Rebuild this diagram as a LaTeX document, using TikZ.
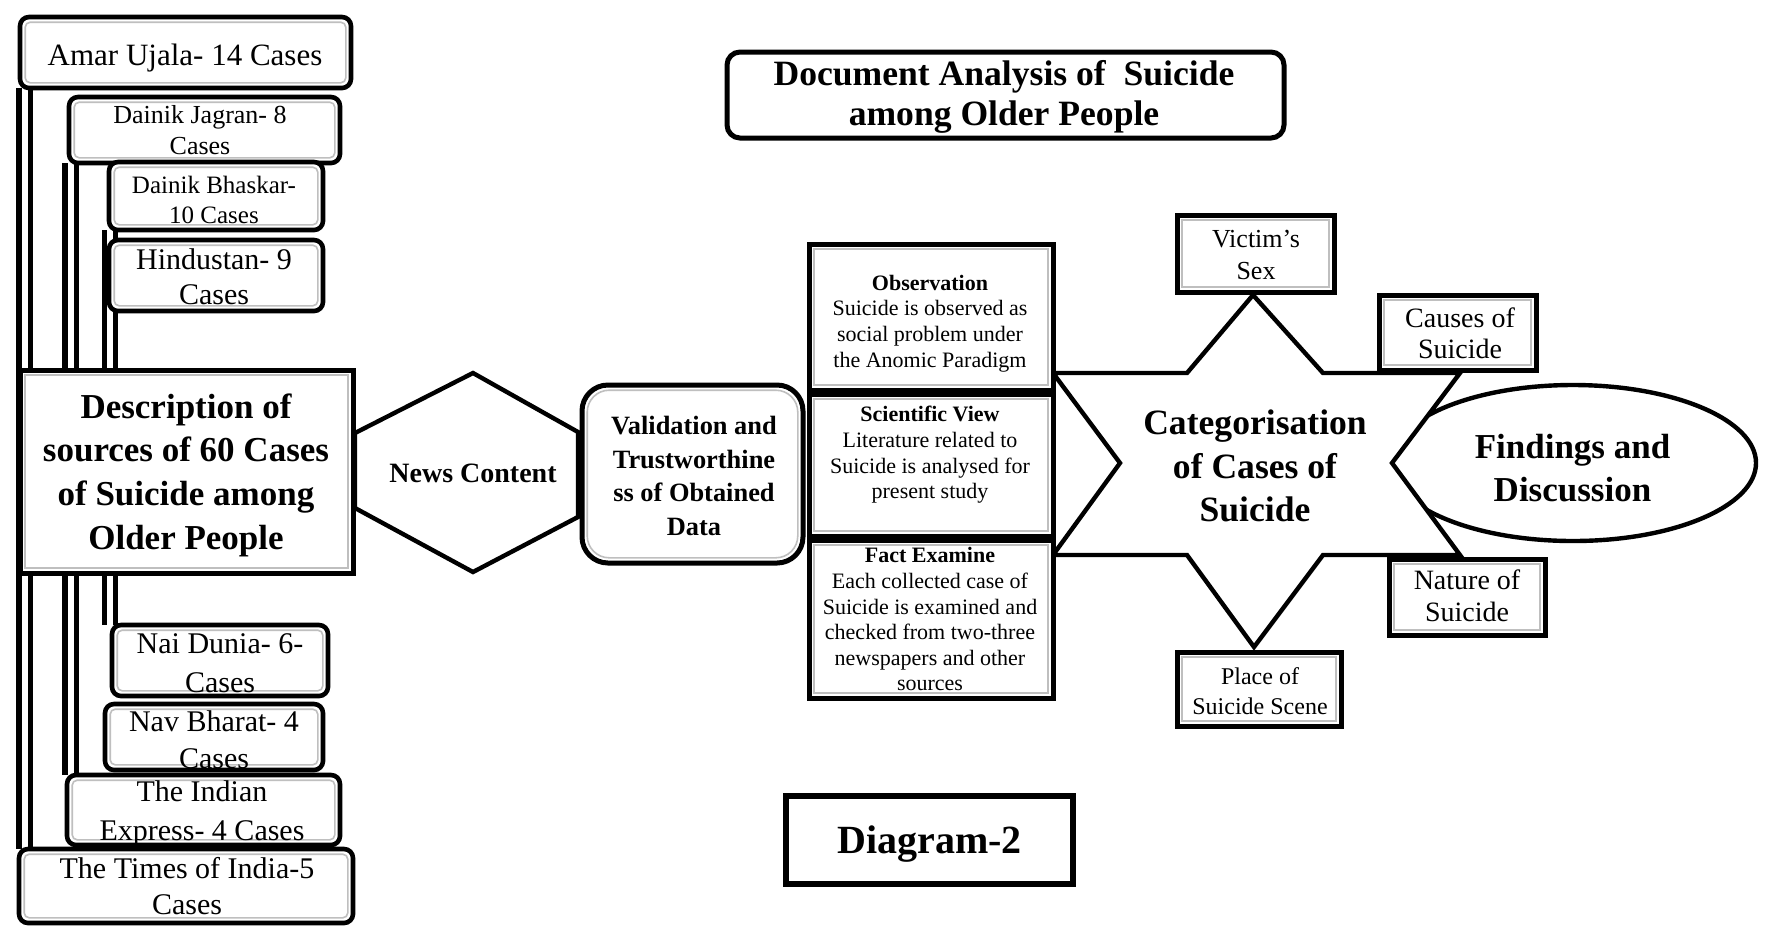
\documentclass[tikz,border=0pt]{standalone}
\usepackage{fontspec}
\setmainfont{Liberation Serif}
\usetikzlibrary{shapes.geometric}
\pgfdeclarelayer{bg}
\pgfsetlayers{bg,main}
\newcommand\myfs[2]{\fontsize{#1pt}{#2pt}\selectfont}
\tikzset{
 box/.style={draw, line width=2.5pt, fill=white, inner sep=0pt, outer sep=0pt},
 bev/.style={path picture={\draw[gray!50, line width=0.8pt, rounded corners=#1] ([xshift=2.6pt,yshift=-2.6pt]path picture bounding box.north west) rectangle ([xshift=-2.6pt,yshift=2.6pt]path picture bounding box.south east);}},
 bev/.default=0pt,
 lbox/.style={box, line width=2.3pt, rounded corners=4.5pt, bev=2.5pt},
 sbox/.style={box, bev},
 dline/.style={line width=2.6pt, double=white, double distance=3pt},
 shp/.style={draw, line width=2.2pt, fill=white, line join=miter},
 txt/.style={align=center, inner sep=0pt},
}
\begin{document}
\begin{tikzpicture}[x=0.5pt,y=-0.5pt]
\useasboundingbox (0,0) rectangle (1772,939);

% ---------- left column boxes ----------
\node[lbox, minimum width=165.5pt, minimum height=35.5pt] (amar) at (185.5,52.5) {};
\node[lbox, minimum width=135.5pt, minimum height=33pt] (jagran) at (204.5,130) {};
\node[lbox, minimum width=107pt, minimum height=34pt] (bhaskar) at (216,196) {};
\node[lbox, minimum width=107pt, minimum height=35.5pt] (hind) at (216,275.5) {};
\node[lbox, minimum width=108pt, minimum height=35.5pt] (nai) at (220,660.5) {};
\node[lbox, minimum width=109pt, minimum height=33pt] (nav) at (214,737) {};
\node[lbox, minimum width=136.5pt, minimum height=35pt] (express) at (203.5,810) {};
\node[lbox, minimum width=167pt, minimum height=37pt] (times) at (186,886) {};

\coordinate (v1) at (24.5,0);
\coordinate (v2) at (70.5,0);
\coordinate (v3) at (110,0);
\begin{pgfonlayer}{bg}
\fill[white] (0,0) rectangle (1772,939);
\draw[dline] (v1 |- amar.south) -- (v1 |- times.north);
\draw[dline] (v2 |- jagran.south) -- (v2 |- express.north);
\draw[dline] (v3 |- bhaskar.south) -- (v3 |- nai.north);
\end{pgfonlayer}

% ---------- news content hexagon ----------
\draw[shp] (355,433) -- (473,373) -- (578,432) -- (578,517) -- (473,572) -- (355,508) -- cycle;

\node[sbox, minimum width=166.5pt, minimum height=101.5pt] (desc) at (186.5,471.5) {};
\node[box, rounded corners=13pt, bev=11pt, minimum width=110.5pt, minimum height=89pt] (valid) at (692.5,474) {};

% ---------- findings ellipse and star ----------
\node[ellipse, draw, line width=2.2pt, fill=white, minimum width=183pt, minimum height=78pt, inner sep=0pt] (ell) at (1573,463) {};
\draw[shp] (1253,295) -- (1323,373) -- (1460,373) -- (1392,463) -- (1460,555) -- (1323,555) -- (1254,647) -- (1187,555) -- (1053,555) -- (1120,463) -- (1053,373) -- (1187,373) -- cycle;

% ---------- three stacked boxes ----------
\node[sbox, minimum width=122pt, minimum height=73pt] (obs) at (931,317) {};
\node[sbox, minimum width=122pt, minimum height=71pt] (sci) at (931,465) {};
\node[sbox, minimum width=122pt, minimum height=79pt] (fact) at (931,619) {};

% ---------- category boxes ----------
\node[sbox, minimum width=78.5pt, minimum height=38.5pt] (victim) at (1255.5,253.5) {};
\node[sbox, minimum width=78.5pt, minimum height=37.5pt] (causes) at (1457.5,332.5) {};
\node[sbox, minimum width=78pt, minimum height=38pt] (nature) at (1467,597) {};
\node[sbox, minimum width=82pt, minimum height=37pt] (place) at (1259,689) {};

% ---------- title and label ----------
\node[box, rounded corners=6.5pt, minimum width=278.5pt, minimum height=43pt] (title) at (1005.5,95) {};
\node[box, line width=2.8pt, minimum width=143.5pt, minimum height=44pt] (diag) at (929.5,840) {};

% ---------- texts ----------
\node[txt, anchor=base, font=\myfs{15.5}{18}] (amart) at (185,65) {Amar Ujala- 14 Cases};
\node[txt, font=\myfs{13}{15.5}] (jagrant) at (200,130.5) {Dainik Jagran- 8\\Cases};
\node[txt, font=\myfs{12.5}{15}] (bhaskart) at (214,199.5) {Dainik Bhaskar-\\10 Cases};
\node[txt, font=\myfs{15}{17.5}] (hindt) at (214,276.5) {Hindustan- 9\\Cases};
\node[txt, font=\myfs{15}{19.5}] (nait) at (220,663.5) {Nai Dunia- 6-\\Cases};
\node[txt, font=\myfs{15}{18.5}] (navt) at (214,739.5) {Nav Bharat- 4\\Cases};
\node[txt, font=\myfs{15}{19.5}] (expresst) at (202,813.5) {The Indian\\Express- 4 Cases};
\node[txt, font=\myfs{15}{18}] (timest) at (187,886) {The Times of India-5\\Cases};

\node[txt, font=\myfs{17.5}{21.8}\bfseries] (desct) at (186,475) {Description of\\sources of 60 Cases\\of Suicide among\\Older People};
\node[txt, anchor=base, font=\myfs{14}{16}\bfseries] (newst) at (473,482) {News Content};
\node[txt, font=\myfs{13.2}{16.7}\bfseries] (validt) at (694,476) {Validation and\\Trustworthine\\ss of Obtained\\Data};

\node[txt, font=\myfs{11}{12.8}] (obst) at (930,323.4) {\textbf{Observation}\\Suicide is observed as\\social problem under\\the Anomic Paradigm};
\node[txt, font=\myfs{11}{12.8}] (scit) at (930,455) {\textbf{Scientific View}\\Literature related to\\Suicide is analysed for\\present study};
\node[txt, font=\myfs{11}{12.8}] (factt) at (930,619.4) {\textbf{Fact Examine}\\Each collected case of\\Suicide is examined and\\checked from two-three\\newspapers and other\\sources};

\node[txt, font=\myfs{17.8}{21.7}\bfseries] (catt) at (1255,466) {Categorisation\\of Cases of\\Suicide};
\node[txt, font=\myfs{17.5}{21.5}\bfseries] (findt) at (1572.5,468) {Findings and\\Discussion};

\node[txt, font=\myfs{13}{16}] (victimt) at (1256,255) {Victim’s\\Sex};
\node[txt, font=\myfs{14}{15.5}] (causest) at (1460,333) {Causes of\\Suicide};
\node[txt, font=\myfs{14}{16}] (naturet) at (1467,595.6) {Nature of\\Suicide};
\node[txt, font=\myfs{12}{15}] (placet) at (1260,691) {Place of\\Suicide Scene};

\node[txt, font=\myfs{17.8}{20}\bfseries] (titlet) at (1004,97) {Document Analysis of~ Suicide\\among Older People};
\node[txt, anchor=base, font=\myfs{20}{24}\bfseries] (diagt) at (929.5,853) {Diagram-2};
\end{tikzpicture}
\end{document}
